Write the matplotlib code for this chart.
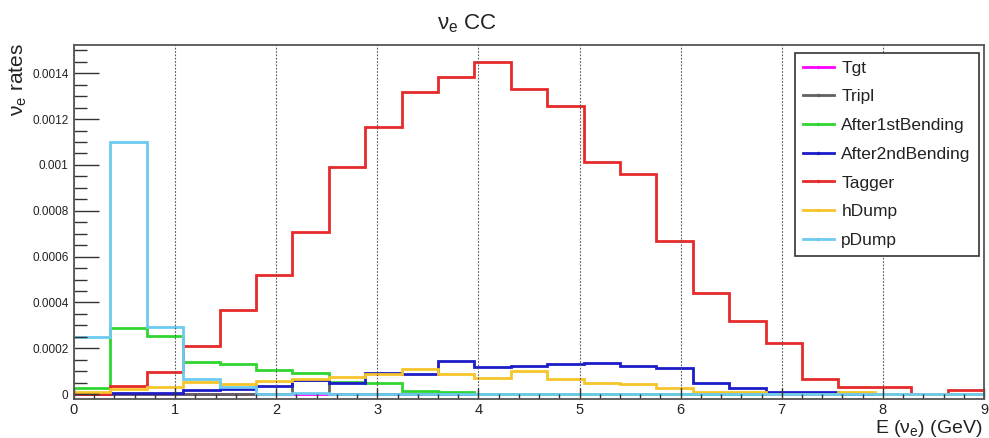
import numpy as np
import matplotlib
matplotlib.use("Agg")
import matplotlib.pyplot as plt
from matplotlib.lines import Line2D
from matplotlib.ticker import MultipleLocator, FuncFormatter

plt.rcParams['font.family'] = ['Liberation Sans', 'DejaVu Sans']
plt.rcParams['mathtext.fontset'] = 'custom'
plt.rcParams['mathtext.rm'] = 'Liberation Sans'
plt.rcParams['mathtext.it'] = 'Liberation Sans:italic'

# 25 energy bins from 0 to 9 GeV
bin_edges = np.linspace(0.0, 9.0, 26)

# nu_e CC rates per bin, one array per location along the beamline
tgt = [0.0] * 25
tripl = [0, 0, 0, 0, 0, 0, 0.000062, 0, 0, 0, 0, 0, 0, 0, 0, 0, 0, 0, 0, 0, 0, 0, 0, 0, 0]
after1st = [0.000025, 0.000290, 0.000253, 0.000141, 0.000130, 0.000105, 0.000092,
            0.000054, 0.000047, 0.000015, 0.000008, 0, 0, 0, 0, 0, 0, 0, 0, 0, 0, 0, 0, 0, 0]
after2nd = [0, 0.000003, 0.000003, 0.000018, 0.000024, 0.000035, 0.000061, 0.000047,
            0.000093, 0.000086, 0.000144, 0.000117, 0.000123, 0.000131, 0.000137,
            0.000124, 0.000113, 0.000050, 0.000025, 0.000008, 0.000008, 0, 0, 0, 0]
tagger = [0, 0.000035, 0.000095, 0.000210, 0.000367, 0.000520, 0.000708, 0.000992,
          0.001164, 0.001317, 0.001385, 0.001450, 0.001330, 0.001257, 0.001011,
          0.000960, 0.000669, 0.000440, 0.000319, 0.000224, 0.000065, 0.000030,
          0.000030, 0, 0.000020]
hdump = [0.000010, 0.000022, 0.000030, 0.000054, 0.000044, 0.000058, 0.000065,
         0.000076, 0.000088, 0.000108, 0.000086, 0.000072, 0.000101, 0.000066,
         0.000050, 0.000043, 0.000028, 0.000008, 0.000008, 0, 0, 0.000008, 0, 0, 0]
pdump = [0.000248, 0.001100, 0.000294, 0.000066, 0.000030, 0, 0.000005, 0, 0, 0,
         0, 0, 0, 0, 0, 0, 0, 0, 0, 0, 0, 0, 0, 0, 0]

series_names = ["Tgt", "Tripl", "After1stBending", "After2ndBending", "Tagger", "hDump", "pDump"]
series_values = [tgt, tripl, after1st, after2nd, tagger, hdump, pdump]
series_colors = ["#ff00ff", "#606060", "#30d630", "#1c1cc8", "#e62a2a", "#f5c52a", "#6ccbef"]

fig = plt.figure(figsize=(9.89, 4.38), dpi=100)
ax = fig.add_axes([74 / 989, 1 - 399 / 438, 910 / 989, 354 / 438])

for vals, col in zip(series_values, series_colors):
    ax.stairs(vals, bin_edges, baseline=None, color=col, lw=2.0)

ax.set_xlim(0, 9)
ax.set_ylim(-0.0000214, 0.0015232)

ax.xaxis.set_major_locator(MultipleLocator(1))
ax.xaxis.set_minor_locator(MultipleLocator(0.2))
ax.yaxis.set_major_locator(MultipleLocator(0.0002))
ax.yaxis.set_minor_locator(MultipleLocator(0.00005))
ax.yaxis.set_major_formatter(FuncFormatter(lambda v, p: "0" if abs(v) < 1e-12 else "%g" % v))

ax.tick_params(axis='y', which='major', direction='in', length=18, width=1.0,
               labelsize=8.5, pad=4, colors='#333333')
ax.tick_params(axis='y', which='minor', direction='in', length=9, width=1.0, colors='#333333')
ax.tick_params(axis='x', which='major', direction='in', length=8, width=1.0,
               labelsize=10.5, pad=3, colors='#333333')
ax.tick_params(axis='x', which='minor', direction='in', length=3.5, width=1.0, colors='#333333')
ax.tick_params(labelcolor='#222222')

ax.grid(axis='x', which='major', linestyle=(0, (1.5, 1.5)), color='#555555', lw=0.8)
ax.grid(axis='y', visible=False)

for sp in ax.spines.values():
    sp.set_color('#555555')
    sp.set_linewidth(1.3)

fig.text(0.472, 0.947, "ν$_\\mathrm{e}$ CC", ha='center', va='center', fontsize=16, color='#222222')
fig.text(0.019, 0.902, "ν$_\\mathrm{e}$ rates", rotation=90, ha='center', va='top',
         fontsize=15, color='#222222')
fig.text(0.994, 0.022, "E (ν$_\\mathrm{e}$) (GeV)", ha='right', va='center',
         fontsize=14, color='#222222')

handles = [Line2D([], [], color=c, lw=2.0, marker='.', markersize=3) for c in series_colors]
leg = ax.legend(handles, series_names, loc='upper left', bbox_to_anchor=(0.792, 0.978),
                borderaxespad=0, fontsize=12.5, handlelength=1.8, handletextpad=0.44,
                labelspacing=0.78, borderpad=0.45, numpoints=1, fancybox=False,
                framealpha=1, edgecolor='#333333')
leg.get_frame().set_linewidth(1.2)
for t in leg.get_texts():
    t.set_color('#222222')

fig.savefig("out.png", dpi=100)
